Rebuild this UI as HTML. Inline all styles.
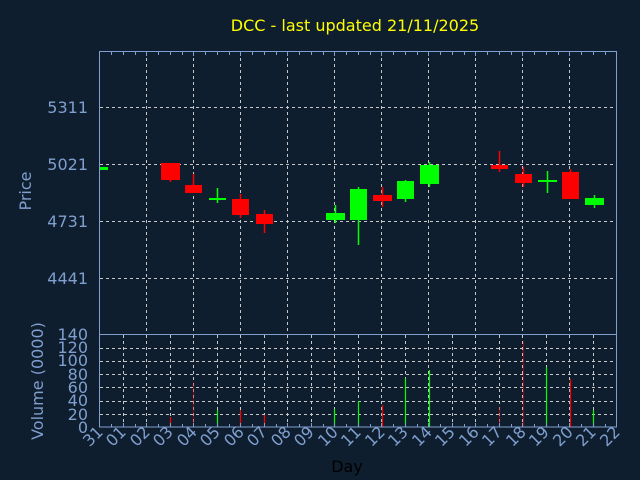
<!DOCTYPE html>
<html><head><meta charset="utf-8"><style>
body{margin:0;background:#0f1e2e;}
svg{display:block;font-family:"DejaVu Sans","Liberation Sans",sans-serif;}
</style></head><body>
<svg width="640" height="480" viewBox="0 0 640 480" xmlns="http://www.w3.org/2000/svg">
<rect width="640" height="480" fill="#0f1e2e"/>
<text x="355" y="31" fill="#ffff00" font-size="16" text-anchor="middle">DCC - last updated 21/11/2025</text>
<!-- price grid -->
<g stroke="#c8c8c8" stroke-width="1" stroke-dasharray="3,3">
<line x1="100" y1="107.5" x2="616" y2="107.5"/>
<line x1="100" y1="164.5" x2="616" y2="164.5"/>
<line x1="100" y1="221.5" x2="616" y2="221.5"/>
<line x1="100" y1="278.5" x2="616" y2="278.5"/>
<line x1="146.5" y1="52" x2="146.5" y2="335"/><line x1="193.5" y1="52" x2="193.5" y2="335"/>
<line x1="240.5" y1="52" x2="240.5" y2="335"/><line x1="287.5" y1="52" x2="287.5" y2="335"/>
<line x1="334.5" y1="52" x2="334.5" y2="335"/><line x1="381.5" y1="52" x2="381.5" y2="335"/>
<line x1="428.5" y1="52" x2="428.5" y2="335"/><line x1="475.5" y1="52" x2="475.5" y2="335"/>
<line x1="522.5" y1="52" x2="522.5" y2="335"/><line x1="569.5" y1="52" x2="569.5" y2="335"/>
</g>
<!-- volume grid -->
<g stroke="#c8c8c8" stroke-width="1" stroke-dasharray="3,3">
<line x1="100" y1="348.5" x2="616" y2="348.5"/><line x1="100" y1="361.5" x2="616" y2="361.5"/>
<line x1="100" y1="374.5" x2="616" y2="374.5"/><line x1="100" y1="387.5" x2="616" y2="387.5"/>
<line x1="100" y1="401.5" x2="616" y2="401.5"/><line x1="100" y1="414.5" x2="616" y2="414.5"/>
<line x1="123.5" y1="335" x2="123.5" y2="427"/><line x1="146.5" y1="335" x2="146.5" y2="427"/>
<line x1="170.5" y1="335" x2="170.5" y2="427"/><line x1="193.5" y1="335" x2="193.5" y2="427"/>
<line x1="217.5" y1="335" x2="217.5" y2="427"/><line x1="240.5" y1="335" x2="240.5" y2="427"/>
<line x1="264.5" y1="335" x2="264.5" y2="427"/><line x1="287.5" y1="335" x2="287.5" y2="427"/>
<line x1="311.5" y1="335" x2="311.5" y2="427"/><line x1="334.5" y1="335" x2="334.5" y2="427"/>
<line x1="358.5" y1="335" x2="358.5" y2="427"/><line x1="381.5" y1="335" x2="381.5" y2="427"/>
<line x1="405.5" y1="335" x2="405.5" y2="427"/><line x1="428.5" y1="335" x2="428.5" y2="427"/>
<line x1="452.5" y1="335" x2="452.5" y2="427"/><line x1="475.5" y1="335" x2="475.5" y2="427"/>
<line x1="499.5" y1="335" x2="499.5" y2="427"/><line x1="522.5" y1="335" x2="522.5" y2="427"/>
<line x1="546.5" y1="335" x2="546.5" y2="427"/><line x1="569.5" y1="335" x2="569.5" y2="427"/>
<line x1="593.5" y1="335" x2="593.5" y2="427"/>
</g>
<!-- candles -->
<g stroke-width="1.5">
<rect x="100" y="167" width="8" height="3" fill="#00ff00"/>
<line x1="170.5" y1="163" x2="170.5" y2="182" stroke="#ff0000"/><rect x="161" y="163" width="19" height="17" fill="#ff0000"/>
<line x1="193.5" y1="174" x2="193.5" y2="193" stroke="#ff0000"/><rect x="185" y="185" width="17" height="8" fill="#ff0000"/>
<line x1="217.5" y1="188" x2="217.5" y2="203" stroke="#00ff00"/><rect x="209" y="198" width="17" height="2" fill="#00ff00"/>
<line x1="240.5" y1="194" x2="240.5" y2="218" stroke="#ff0000"/><rect x="232" y="199" width="17" height="16" fill="#ff0000"/>
<line x1="264.5" y1="210" x2="264.5" y2="233" stroke="#ff0000"/><rect x="256" y="214" width="17" height="10" fill="#ff0000"/>
<line x1="335.5" y1="205" x2="335.5" y2="223" stroke="#00ff00"/><rect x="326" y="213" width="19" height="7" fill="#00ff00"/>
<line x1="358.5" y1="187" x2="358.5" y2="245" stroke="#00ff00"/><rect x="350" y="189" width="17" height="31" fill="#00ff00"/>
<line x1="382.5" y1="187" x2="382.5" y2="207" stroke="#ff0000"/><rect x="373" y="195" width="19" height="6" fill="#ff0000"/>
<line x1="405.5" y1="180" x2="405.5" y2="202" stroke="#00ff00"/><rect x="397" y="181" width="17" height="18" fill="#00ff00"/>
<line x1="429.5" y1="162" x2="429.5" y2="187" stroke="#00ff00"/><rect x="420" y="165" width="19" height="19" fill="#00ff00"/>
<line x1="499.5" y1="151" x2="499.5" y2="172" stroke="#ff0000"/><rect x="491" y="165" width="17" height="4" fill="#ff0000"/>
<line x1="523.5" y1="167" x2="523.5" y2="187" stroke="#ff0000"/><rect x="515" y="174" width="17" height="9" fill="#ff0000"/>
<line x1="547.5" y1="171" x2="547.5" y2="193" stroke="#00ff00"/><rect x="538" y="180" width="19" height="2" fill="#00ff00"/>
<line x1="570.5" y1="169" x2="570.5" y2="199" stroke="#ff0000"/><rect x="562" y="172" width="17" height="27" fill="#ff0000"/>
<line x1="594.5" y1="195" x2="594.5" y2="208" stroke="#00ff00"/><rect x="585" y="198" width="19" height="7" fill="#00ff00"/>
</g>
<!-- volume bars -->
<g stroke-width="1.2">
<line x1="170.5" y1="427" x2="170.5" y2="417" stroke="#ff0000"/>
<line x1="193.5" y1="427" x2="193.5" y2="382" stroke="#ff0000" stroke-opacity="0.4"/>
<line x1="217.5" y1="427" x2="217.5" y2="410" stroke="#00ff00"/>
<line x1="240.5" y1="427" x2="240.5" y2="410" stroke="#ff0000"/>
<line x1="264.5" y1="427" x2="264.5" y2="415" stroke="#ff0000"/>
<line x1="334.5" y1="427" x2="334.5" y2="409" stroke="#00ff00"/>
<line x1="358.5" y1="427" x2="358.5" y2="401" stroke="#00ff00"/>
<line x1="382.5" y1="427" x2="382.5" y2="405" stroke="#ff0000"/>
<line x1="405.5" y1="427" x2="405.5" y2="378" stroke="#00ff00"/>
<line x1="429.5" y1="427" x2="429.5" y2="370" stroke="#00ff00"/>
<line x1="499.5" y1="427" x2="499.5" y2="407" stroke="#ff0000" stroke-opacity="0.5"/>
<line x1="523.5" y1="427" x2="523.5" y2="341" stroke="#ff0000" stroke-opacity="0.5"/>
<line x1="546.5" y1="427" x2="546.5" y2="367" stroke="#00ff00"/>
<line x1="570.5" y1="427" x2="570.5" y2="379" stroke="#ff0000"/>
<line x1="593.5" y1="427" x2="593.5" y2="410" stroke="#00ff00"/>
</g>
<!-- axes -->
<g stroke="#7f9fcf" stroke-width="1" fill="none">
<rect x="99.5" y="51.5" width="517" height="283"/>
<rect x="99.5" y="334.5" width="517" height="92.5"/>
</g>
<path stroke="#7f9fcf" stroke-width="1" d="M111.5 52v3M123.5 52v3M135.5 52v3M146.5 52v4M158.5 52v3M170.5 52v3M182.5 52v3M193.5 52v4M205.5 52v3M217.5 52v3M229.5 52v3M240.5 52v4M252.5 52v3M264.5 52v3M276.5 52v3M287.5 52v4M299.5 52v3M311.5 52v3M323.5 52v3M334.5 52v4M346.5 52v3M358.5 52v3M370.5 52v3M381.5 52v4M393.5 52v3M405.5 52v3M417.5 52v3M428.5 52v4M440.5 52v3M452.5 52v3M464.5 52v3M475.5 52v4M487.5 52v3M499.5 52v3M511.5 52v3M522.5 52v4M534.5 52v3M546.5 52v3M558.5 52v3M569.5 52v4M581.5 52v3M593.5 52v3M605.5 52v3
M111.5 427v-3M123.5 427v-4M135.5 427v-3M146.5 427v-4M158.5 427v-3M170.5 427v-4M182.5 427v-3M193.5 427v-4M205.5 427v-3M217.5 427v-4M229.5 427v-3M240.5 427v-4M252.5 427v-3M264.5 427v-4M276.5 427v-3M287.5 427v-4M299.5 427v-3M311.5 427v-4M323.5 427v-3M334.5 427v-4M346.5 427v-3M358.5 427v-4M370.5 427v-3M381.5 427v-4M393.5 427v-3M405.5 427v-4M417.5 427v-3M428.5 427v-4M440.5 427v-3M452.5 427v-4M464.5 427v-3M475.5 427v-4M487.5 427v-3M499.5 427v-4M511.5 427v-3M522.5 427v-4M534.5 427v-3M546.5 427v-4M558.5 427v-3M569.5 427v-4M581.5 427v-3M593.5 427v-4M605.5 427v-3"/>
<g fill="#7f9fcf" font-size="16" text-anchor="end">
<text x="88" y="113">5311</text><text x="88" y="170">5021</text>
<text x="88" y="227">4731</text><text x="88" y="284">4441</text>
<text x="88" y="340">140</text><text x="88" y="353">120</text><text x="88" y="366">100</text>
<text x="88" y="380">80</text><text x="88" y="393">60</text><text x="88" y="406">40</text>
<text x="88" y="420">20</text><text x="88" y="433">0</text>
</g>
<text transform="translate(31,191) rotate(-90)" fill="#7f9fcf" font-size="16" text-anchor="middle">Price</text>
<text transform="translate(43,381) rotate(-90)" fill="#7f9fcf" font-size="16" text-anchor="middle">Volume (0000)</text>
<g fill="#7f9fcf" font-size="16" text-anchor="end">
<text transform="translate(104,433) rotate(-45)">31</text>
<text transform="translate(127,433) rotate(-45)">01</text>
<text transform="translate(151,433) rotate(-45)">02</text>
<text transform="translate(174,433) rotate(-45)">03</text>
<text transform="translate(198,433) rotate(-45)">04</text>
<text transform="translate(221,433) rotate(-45)">05</text>
<text transform="translate(245,433) rotate(-45)">06</text>
<text transform="translate(268,433) rotate(-45)">07</text>
<text transform="translate(292,433) rotate(-45)">08</text>
<text transform="translate(315,433) rotate(-45)">09</text>
<text transform="translate(339,433) rotate(-45)">10</text>
<text transform="translate(362,433) rotate(-45)">11</text>
<text transform="translate(386,433) rotate(-45)">12</text>
<text transform="translate(409,433) rotate(-45)">13</text>
<text transform="translate(433,433) rotate(-45)">14</text>
<text transform="translate(456,433) rotate(-45)">15</text>
<text transform="translate(480,433) rotate(-45)">16</text>
<text transform="translate(503,433) rotate(-45)">17</text>
<text transform="translate(527,433) rotate(-45)">18</text>
<text transform="translate(550,433) rotate(-45)">19</text>
<text transform="translate(574,433) rotate(-45)">20</text>
<text transform="translate(597,433) rotate(-45)">21</text>
<text transform="translate(621,433) rotate(-45)">22</text>
</g>
<text x="347" y="472" fill="#000000" font-size="16" text-anchor="middle">Day</text>
</svg>
</body></html>
